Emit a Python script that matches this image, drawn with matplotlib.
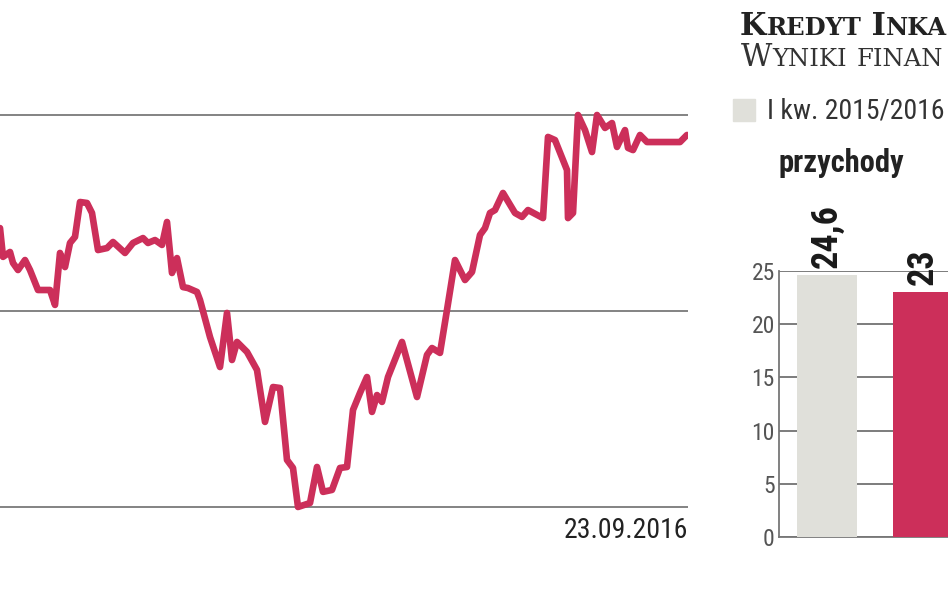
import matplotlib
matplotlib.use('Agg')
import matplotlib.pyplot as plt
from matplotlib import font_manager

# --- data ---
# share price (left chart), session index vs. price level
sessions = [0, 3, 10, 13, 18, 25, 30, 38, 50, 55, 60, 65, 70, 75, 80, 87, 92, 98,
            107, 113, 125, 133, 143, 148, 155, 162, 167, 172, 177, 183, 188, 197,
            200, 210, 220, 227, 232, 237, 247, 257, 265, 273, 280, 287, 293, 298,
            310, 317, 323, 332, 340, 347, 353, 360, 367, 372, 377, 382, 388, 402,
            417, 427, 432, 440, 447, 455, 465, 472, 480, 485, 490, 495, 503, 515,
            522, 528, 543, 548, 555, 567, 568, 573, 578, 585, 592, 597, 605, 612,
            617, 625, 628, 633, 640, 647, 680, 687]
price = [44.23, 42.76, 43.01, 42.45, 42.09, 42.60, 42.09, 41.07, 41.07, 40.31,
         42.96, 42.24, 43.47, 43.78, 45.56, 45.51, 45.00, 43.11, 43.21, 43.52,
         42.96, 43.47, 43.72, 43.47, 43.62, 43.37, 44.54, 41.94, 42.70, 41.22,
         41.17, 40.97, 40.56, 38.67, 37.14, 39.90, 37.50, 38.42, 37.91, 36.99,
         34.34, 36.12, 36.07, 32.40, 31.99, 30.00, 30.20, 32.04, 30.77, 30.87,
         31.99, 32.04, 34.95, 35.82, 36.63, 34.85, 35.71, 35.36, 36.63, 38.42,
         35.61, 37.76, 38.11, 37.86, 40.05, 42.60, 41.58, 41.99, 43.88, 44.23,
         45.00, 45.15, 46.02, 45.00, 44.80, 45.15, 44.74, 48.88, 48.72, 47.19,
         44.74, 45.00, 50.00, 49.23, 48.11, 50.00, 49.34, 49.59, 48.37, 49.23,
         48.32, 48.21, 48.98, 48.62, 48.62, 48.98]
grid_levels = [30, 40, 50]
last_date = '23.09.2016'

# financial results (right chart), headings as far as they are visible
title = 'Kredyt Inka'
subtitle = 'Wyniki finan'
legend_label = 'I kw. 2015/2016'
panel_label = 'przychody'
bar_values = [24.6, 23]
bar_text = ['24,6', '23']
bar_ticks = [0, 5, 10, 15, 20, 25]

RED = '#CC2F5A'
GREY_BAR = '#E0E0DA'
W, H = 948, 593

# pick a narrow sans if one is installed
names = {f.name for f in font_manager.fontManager.ttflist}
cond_dejavu = any(f.name == 'DejaVu Sans' and f.stretch == 'condensed'
                  for f in font_manager.fontManager.ttflist)
narrow = {'family': 'Roboto'}
for cand in ['Liberation Sans Narrow', 'Roboto Condensed', 'Open Sans Condensed']:
    if cand in names:
        narrow = {'family': cand}
        break
else:
    if cond_dejavu:
        narrow = {'family': 'DejaVu Sans', 'stretch': 'condensed'}


def fx(px):
    return px / W


def fy(py):
    return 1 - py / H


fig = plt.figure(figsize=(W / 100, H / 100), dpi=100)
fig.patch.set_facecolor('white')

# --- line chart ---
ax = fig.add_axes([0, fy(515), fx(688), (515 - 95) / H])
for lv in grid_levels:
    ax.axhline(lv, color='#7a7a7a', lw=1.3, zorder=1)
ax.plot(sessions, price, color=RED, lw=4.8, solid_joinstyle='round',
        solid_capstyle='round', zorder=3)
ax.set_xlim(0, 688)
ax.set_ylim(29.59, 51.02)
ax.axis('off')

fig.text(fx(688), fy(538), last_date, ha='right', va='baseline',
         fontsize=20, color='#222222', **narrow)

# --- small caps headings ---
renderer = fig.canvas.get_renderer()


def small_caps(x, y, text, big, small, **kw):
    # word-initial capitals big, the rest as smaller capitals
    parts = []
    for ch in text:
        size = big if (ch.isupper() or ch == ' ') else small
        if parts and parts[-1][1] == size:
            parts[-1][0] += ch.upper()
        else:
            parts.append([ch.upper(), size])
    for s, size in parts:
        t = fig.text(x, y, s, fontsize=size, va='baseline', **kw)
        bb = t.get_window_extent(renderer)
        x += bb.width / W


small_caps(fx(740), fy(35), title, 22, 17.5, family='DejaVu Serif',
           weight='bold', color='#222222')
small_caps(fx(741), fy(66), subtitle, 22, 17.5, family='DejaVu Serif',
           color='#333333')

# legend
fig.patches.append(plt.Rectangle((fx(733), fy(121)), fx(22), 22 / H,
                                 transform=fig.transFigure, color=GREY_BAR))
fig.text(fx(767), fy(119), legend_label, fontsize=20, color='#333333',
         va='baseline', **narrow)
fig.text(fx(778), fy(172), panel_label, fontsize=22, weight='bold',
         color='#222222', va='baseline', **narrow)

# --- bar chart ---
bx = fig.add_axes([fx(779), fy(537), fx(948 - 779), (537 - 271) / H])
bx.bar([0, 1], bar_values, width=0.625, color=[GREY_BAR, RED], zorder=3)
bx.set_xlim(-0.5, 1.26)
bx.set_ylim(0, 25)
bx.set_yticks(bar_ticks)
bx.set_yticklabels([str(t) for t in bar_ticks], fontsize=17,
                   color='#555555', **narrow)
bx.tick_params(axis='y', length=0, pad=3)
bx.set_xticks([])
bx.yaxis.grid(True, color='#666666', lw=1.2, zorder=0)
bx.set_axisbelow(True)
for side in ['top', 'right']:
    bx.spines[side].set_visible(False)
for side in ['left', 'bottom']:
    bx.spines[side].set_color('#777777')
    bx.spines[side].set_linewidth(1.3)
for i, v in enumerate(bar_values):
    bx.text(i, v + 0.7, bar_text[i], rotation=90, ha='center', va='bottom',
            weight='bold', fontsize=26, color='#1a1a1a', clip_on=False,
            **narrow)

fig.savefig('out.png', dpi=100)
